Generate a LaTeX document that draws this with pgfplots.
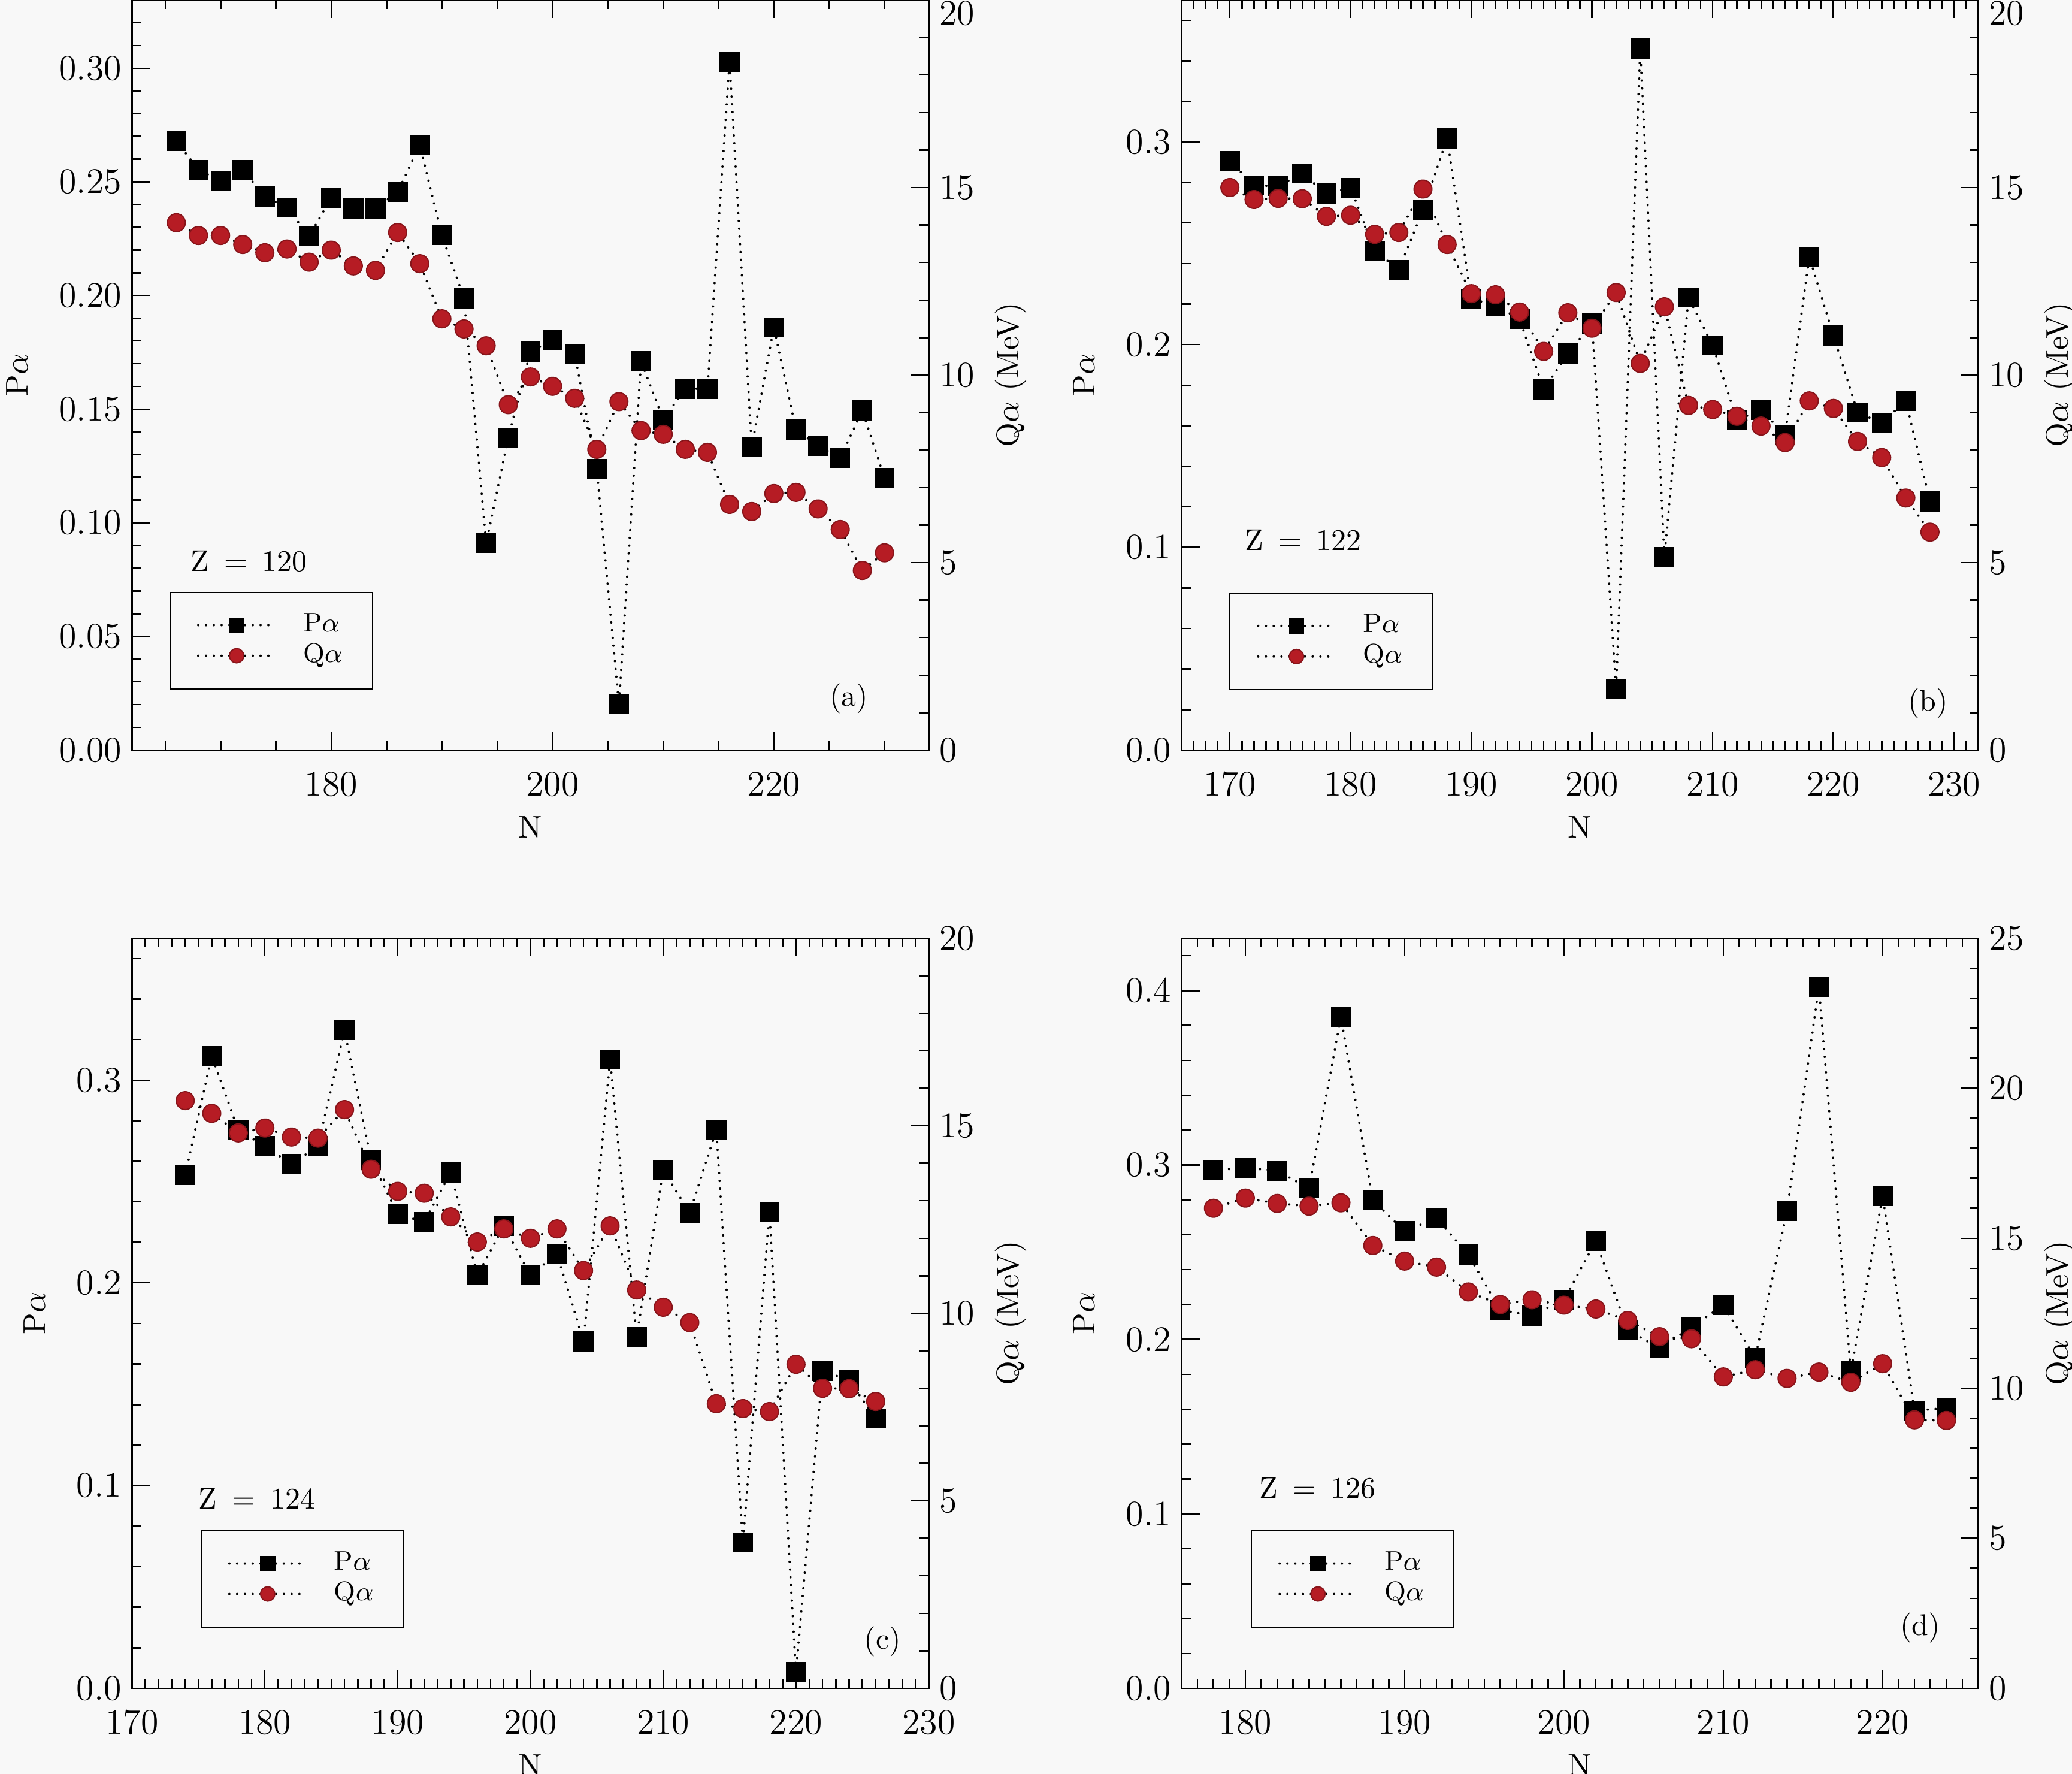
\documentclass[border=0pt]{standalone}
\usepackage{pgfplots}
\pgfplotsset{compat=1.18}
\definecolor{qred}{RGB}{182,28,36}
\definecolor{bg}{RGB}{248,248,248}
\tikzset{
  ztext/.style={font=\fontsize{10}{12}\selectfont, anchor=west, inner sep=0pt},
  ltext/.style={font=\fontsize{10}{12}\selectfont, inner sep=0pt},
}
\pgfplotsset{
  pstyle/.style={black, line width=0.8pt, line cap=round, dash pattern=on 0pt off 2.6pt,
    mark=square*, mark size=3.2pt, mark options={solid, fill=black, draw=black, line width=0.3pt}},
  qstyle/.style={black, line width=0.8pt, line cap=round, dash pattern=on 0pt off 2.6pt,
    mark=*, mark size=3pt, mark options={solid, fill=qred, draw=qred!75!black, line width=0.4pt}},
  base/.style={scale only axis, width=266pt, height=250.4pt, clip=false, anchor=south west,
    axis line style={line width=0.5pt}, every tick/.style={line width=0.5pt, black},
    major tick length=6pt, minor tick length=3pt,
    tick label style={font=\fontsize{12}{12}\selectfont},
    xticklabel style={yshift=-4pt},
    label style={font=\fontsize{10.5}{12}\selectfont}},
  leftax/.style={base, ytick pos=left, xlabel={N}, ylabel={P$\alpha$}, ylabel style={yshift=3.5pt}},
  rightax/.style={base, axis x line=none, axis y line*=right, ylabel={Q$\alpha$ (MeV)},
    legend image code/.code={\draw[mark repeat=2,mark phase=2,##1, mark size=2.4pt] plot coordinates {(0pt,0pt) (12.8pt,0pt) (25.6pt,0pt)};},
    legend style={draw=black, line width=0.4pt, fill=none, anchor=south west,
      inner xsep=9pt, inner ysep=6pt, row sep=0.2pt,
      font=\fontsize{9}{10}\selectfont, cells={anchor=west},
      nodes={inner sep=1pt, text height=6.2pt, text depth=1.8pt},
      /tikz/every odd column/.append style={column sep=8pt}}},
  topright/.style={ytick={0,5,10,15}, extra y ticks={20},
    extra y tick style={yticklabel style={anchor=north west, yshift=3pt}}},
}
\begin{document}
\begin{tikzpicture}
\fill[bg] (0,0) rectangle (691.8pt,592.2pt);
\useasboundingbox (0,0) rectangle (691.8pt,592.2pt);

% ---------------- (a) Z = 120
\begin{axis}[leftax, at={(44.1pt,341.8pt)}, xmin=162, xmax=234, ymin=0, ymax=0.33,
  xtick={180,200,220}, minor xtick={165,170,...,230},
  ytick={0,0.05,0.1,0.15,0.2,0.25,0.3}, minor ytick={0,0.01,...,0.33},
  yticklabel style={/pgf/number format/.cd, fixed, fixed zerofill, precision=2}]
\addplot[pstyle] coordinates {(166,0.268)(168,0.2553)(170,0.2505)(172,0.2553)(174,0.2435)(176,0.2387)(178,0.226)(180,0.243)(182,0.2383)(184,0.2383)(186,0.2455)(188,0.2663)(190,0.2265)(192,0.1988)(194,0.091)(196,0.1375)(198,0.1753)(200,0.1803)(202,0.1743)(204,0.1236)(206,0.0201)(208,0.171)(210,0.1454)(212,0.159)(214,0.159)(216,0.3029)(218,0.1334)(220,0.186)(222,0.141)(224,0.1339)(226,0.1286)(228,0.1494)(230,0.1197)};
\node[ztext] at (rel axis cs:0.073,0.252) {Z\hspace{5pt}=\hspace{5pt}120};
\node[ltext] at (rel axis cs:0.90,0.069) {(a)};
\end{axis}
\begin{axis}[rightax, topright, at={(44.1pt,341.8pt)}, xmin=162, xmax=234, ymin=0, ymax=20,
  minor ytick={0,1,...,20}, legend style={at={(0.047,0.081)}}]
\addlegendimage{pstyle}
\addlegendentry{P$\alpha$}
\addplot[qstyle] coordinates {(166,14.06)(168,13.72)(170,13.72)(172,13.48)(174,13.26)(176,13.36)(178,13.01)(180,13.33)(182,12.91)(184,12.79)(186,13.80)(188,12.97)(190,11.50)(192,11.23)(194,10.78)(196,9.21)(198,9.95)(200,9.70)(202,9.38)(204,8.02)(206,9.29)(208,8.52)(210,8.42)(212,8.02)(214,7.94)(216,6.55)(218,6.36)(220,6.84)(222,6.87)(224,6.43)(226,5.88)(228,4.79)(230,5.26)};
\addlegendentry{Q$\alpha$}
\end{axis}

% ---------------- (b) Z = 122
\begin{axis}[leftax, at={(394.5pt,341.8pt)}, xmin=166, xmax=232, ymin=0, ymax=0.37,
  xtick={170,180,...,230}, minor xtick={166,167,...,232},
  ytick={0,0.1,0.2,0.3}, minor ytick={0,0.02,...,0.36},
  yticklabel style={/pgf/number format/.cd, fixed, fixed zerofill, precision=1}]
\addplot[pstyle] coordinates {(170,0.2906)(172,0.2785)(174,0.2782)(176,0.2844)(178,0.2745)(180,0.2774)(182,0.2463)(184,0.2369)(186,0.2664)(188,0.3018)(190,0.2227)(192,0.2192)(194,0.2128)(196,0.1779)(198,0.1956)(200,0.2104)(202,0.0301)(204,0.3461)(206,0.0953)(208,0.2232)(210,0.1996)(212,0.1629)(214,0.1677)(216,0.1556)(218,0.2434)(220,0.2045)(222,0.1666)(224,0.1613)(226,0.1723)(228,0.1226)};
\node[ztext] at (rel axis cs:0.079,0.28) {Z\hspace{5pt}=\hspace{5pt}122};
\node[ltext] at (rel axis cs:0.937,0.062) {(b)};
\end{axis}
\begin{axis}[rightax, topright, at={(394.5pt,341.8pt)}, xmin=166, xmax=232, ymin=0, ymax=20,
  minor ytick={0,1,...,20}, legend style={at={(0.060,0.08)}}]
\addlegendimage{pstyle}
\addlegendentry{P$\alpha$}
\addplot[qstyle] coordinates {(170,15.00)(172,14.68)(174,14.71)(176,14.70)(178,14.23)(180,14.26)(182,13.75)(184,13.80)(186,14.96)(188,13.48)(190,12.17)(192,12.14)(194,11.68)(196,10.63)(198,11.66)(200,11.25)(202,12.20)(204,10.31)(206,11.82)(208,9.19)(210,9.08)(212,8.90)(214,8.64)(216,8.20)(218,9.31)(220,9.11)(222,8.23)(224,7.80)(226,6.72)(228,5.81)};
\addlegendentry{Q$\alpha$}
\end{axis}

% ---------------- (c) Z = 124
\begin{axis}[leftax, at={(44.1pt,28.6pt)}, xmin=170, xmax=230, ymin=0, ymax=0.37,
  xtick={170,180,...,230}, minor xtick={170,171,...,230},
  ytick={0,0.1,0.2,0.3}, minor ytick={0,0.02,...,0.36},
  yticklabel style={/pgf/number format/.cd, fixed, fixed zerofill, precision=1}]
\addplot[pstyle] coordinates {(174,0.2532)(176,0.3118)(178,0.2754)(180,0.2674)(182,0.2586)(184,0.2674)(186,0.3246)(188,0.2607)(190,0.234)(192,0.23)(194,0.2545)(196,0.2037)(198,0.2281)(200,0.2037)(202,0.2144)(204,0.1711)(206,0.3102)(208,0.1733)(210,0.2556)(212,0.2345)(214,0.2754)(216,0.0719)(218,0.2348)(220,0.008)(222,0.1567)(224,0.1519)(226,0.1332)};
\node[ztext] at (rel axis cs:0.083,0.253) {Z\hspace{5pt}=\hspace{5pt}124};
\node[ltext] at (rel axis cs:0.942,0.062) {(c)};
\end{axis}
\begin{axis}[rightax, at={(44.1pt,28.6pt)}, xmin=170, xmax=230, ymin=0, ymax=20,
  ytick={0,5,10,15,20}, minor ytick={0,1,...,20}, legend style={at={(0.086,0.081)}}]
\addlegendimage{pstyle}
\addlegendentry{P$\alpha$}
\addplot[qstyle] coordinates {(174,15.67)(176,15.33)(178,14.81)(180,14.94)(182,14.70)(184,14.67)(186,15.43)(188,13.84)(190,13.25)(192,13.20)(194,12.57)(196,11.90)(198,12.25)(200,12.0)(202,12.25)(204,11.14)(206,12.33)(208,10.62)(210,10.16)(212,9.75)(214,7.59)(216,7.46)(218,7.38)(220,8.64)(222,8.0)(224,7.99)(226,7.65)};
\addlegendentry{Q$\alpha$}
\end{axis}

% ---------------- (d) Z = 126
\begin{axis}[leftax, at={(394.5pt,28.6pt)}, xmin=176, xmax=226, ymin=0, ymax=0.43,
  xtick={180,190,...,220}, minor xtick={176,177,...,226},
  ytick={0,0.1,0.2,0.3,0.4}, minor ytick={0,0.02,...,0.42},
  yticklabel style={/pgf/number format/.cd, fixed, fixed zerofill, precision=1}]
\addplot[pstyle] coordinates {(178,0.2969)(180,0.2984)(182,0.2966)(184,0.2866)(186,0.3847)(188,0.2798)(190,0.262)(192,0.2695)(194,0.2486)(196,0.2168)(198,0.2137)(200,0.2227)(202,0.2564)(204,0.2053)(206,0.195)(208,0.2069)(210,0.2196)(212,0.1894)(214,0.2738)(216,0.4022)(218,0.1816)(220,0.2822)(222,0.1592)(224,0.1607)};
\node[ztext] at (rel axis cs:0.097,0.267) {Z\hspace{5pt}=\hspace{5pt}126};
\node[ltext] at (rel axis cs:0.927,0.081) {(d)};
\end{axis}
\begin{axis}[rightax, at={(394.5pt,28.6pt)}, xmin=176, xmax=226, ymin=0, ymax=25,
  ytick={0,5,10,15,20,25}, minor ytick={0,1,...,25}, legend style={at={(0.087,0.081)}}]
\addlegendimage{pstyle}
\addlegendentry{P$\alpha$}
\addplot[qstyle] coordinates {(178,16.0)(180,16.34)(182,16.16)(184,16.07)(186,16.18)(188,14.76)(190,14.24)(192,14.04)(194,13.21)(196,12.79)(198,12.95)(200,12.77)(202,12.64)(204,12.26)(206,11.72)(208,11.65)(210,10.38)(212,10.62)(214,10.33)(216,10.54)(218,10.20)(220,10.82)(222,8.95)(224,8.93)};
\addlegendentry{Q$\alpha$}
\end{axis}
\end{tikzpicture}
\end{document}
